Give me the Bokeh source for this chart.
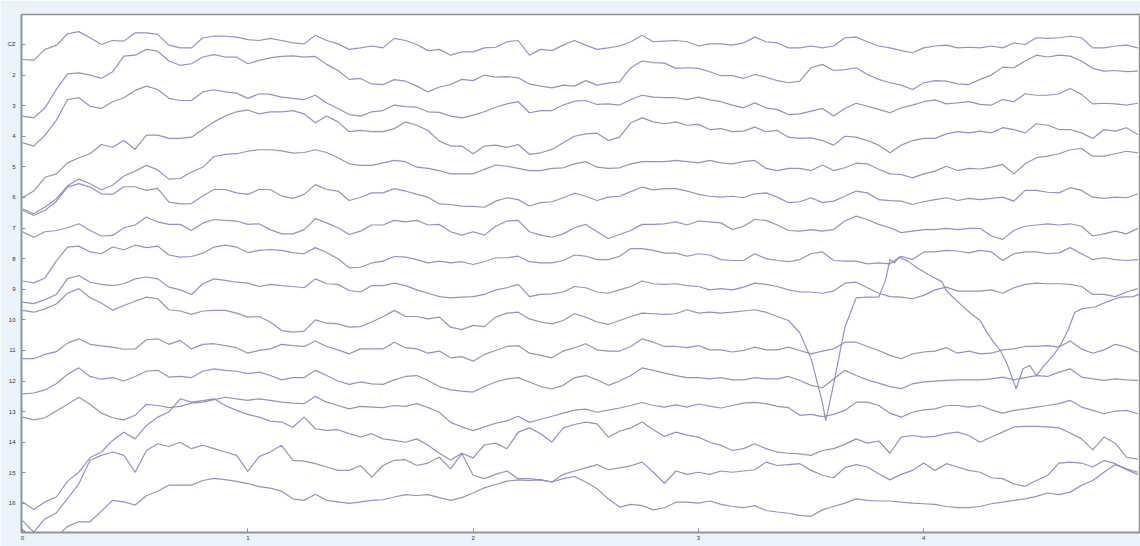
from bokeh.plotting import figure
from bokeh.models import Range1d, FixedTicker
from bokeh.embed import file_html
from bokeh.resources import INLINE

# ---------------- data ----------------
STEP = 0.05
time = [round(i * STEP, 2) for i in range(100)]          # seconds, 0 .. 4.95
channel_labels = ["CZ", "2", "3", "4", "5", "6", "7", "8",
                  "9", "10", "11", "12", "13", "14", "15", "16"]
x_ticks = [0, 1, 2, 3, 4]

# amplitude of each channel (positive = upward), in units of channel spacing
ch1 = [-0.49, -0.51, -0.16, -0.03, 0.35, 0.42, 0.22, 0.0, 0.13, 0.11, 0.38, 0.38, 0.33, -0.02, -0.11, -0.11,
       0.22, 0.27, 0.27, 0.24, 0.16, 0.13, 0.2, 0.13, 0.05, 0.02, 0.3, 0.13, 0.02, -0.16, -0.11, -0.05,
       -0.11, 0.2, 0.13, 0.0, -0.2, -0.16, -0.35, -0.24, -0.24, -0.11, -0.09, 0.09, 0.13, -0.35, -0.16, -0.2, -0.02,
       0.13, -0.02, -0.16, -0.11, -0.05, 0.09, 0.3, 0.09, 0.11, 0.13, 0.09, -0.05, 0.02, 0.02, -0.02, 0.05, 0.24,
       0.09, 0.05, -0.11, -0.11, -0.05, -0.11, -0.05, 0.22, 0.24, 0.09, -0.05, -0.11, -0.2, -0.27, -0.11, -0.05, -0.02,
       -0.11, -0.09, -0.11, -0.05, -0.11, 0.05, 0.0, 0.22, 0.2, 0.22, 0.27, 0.22, -0.11, -0.11, -0.05, -0.02, -0.11]
ch2 = [-1.34, -1.4, -1.07, -0.47, 0.04, 0.07, 0.0, -0.11, 0.11, 0.62, 0.65, 0.84, 0.78, 0.46, 0.32, 0.37,
       0.59, 0.67, 0.59, 0.59, 0.37, 0.48, 0.56, 0.61, 0.63, 0.59, 0.61, 0.35, 0.15, -0.14, -0.11, -0.29,
       -0.31, -0.15, -0.2, -0.36, -0.55, -0.39, -0.31, -0.14, -0.18, 0.0, -0.07, -0.05, -0.09, -0.29, -0.36, -0.42, -0.33,
       -0.36, -0.18, -0.33, -0.26, -0.22, 0.24, 0.46, 0.41, 0.39, 0.22, 0.24, 0.22, 0.11, -0.02, -0.02, -0.11, 0.02,
       -0.07, -0.18, -0.25, -0.2, 0.24, 0.35, 0.15, 0.18, 0.24, 0.02, -0.14, -0.25, -0.33, -0.47, -0.25, -0.18, -0.2,
       -0.29, -0.31, -0.14, 0.0, 0.26, 0.24, 0.46, 0.65, 0.59, 0.65, 0.62, 0.46, 0.22, 0.13, 0.15, 0.11, 0.13]
ch3 = [-1.21, -1.32, -0.96, -0.48, 0.2, 0.26, -0.02, -0.09, 0.13, 0.26, 0.5, 0.64, 0.53, 0.24, 0.17, 0.17,
       0.45, 0.52, 0.45, 0.41, 0.24, 0.39, 0.37, 0.28, 0.24, 0.2, 0.34, 0.09, -0.09, -0.29, -0.34, -0.2,
       -0.16, 0.02, -0.03, -0.05, -0.2, -0.22, -0.34, -0.4, -0.31, -0.2, -0.05, 0.06, 0.13, -0.23, -0.16, -0.16, 0.02,
       0.15, 0.17, 0.04, 0.06, 0.02, 0.2, 0.34, 0.28, 0.26, 0.26, 0.2, 0.28, 0.19, 0.13, 0.02, -0.07, 0.09,
       -0.07, -0.13, -0.29, -0.27, -0.18, -0.09, -0.34, -0.09, 0.08, -0.02, -0.12, -0.23, -0.07, 0.02, 0.13, 0.19, 0.06,
       0.09, 0.13, 0.04, 0.02, 0.2, 0.13, 0.39, 0.34, 0.34, 0.39, 0.56, 0.37, 0.06, 0.08, 0.06, 0.02, 0.08]
ch4 = [-2.0, -1.79, -1.34, -1.23, -0.87, -0.7, -0.57, -0.27, -0.36, -0.14, -0.43, 0.04, 0.04, -0.07, -0.07, -0.03,
       0.22, 0.47, 0.66, 0.8, 0.86, 0.73, 0.8, 0.8, 0.84, 0.73, 0.44, 0.66, 0.47, 0.15, 0.19, 0.15,
       0.15, 0.25, 0.47, 0.36, 0.19, -0.16, -0.32, -0.32, -0.57, -0.32, -0.29, -0.36, -0.27, -0.59, -0.54, -0.43, -0.21,
       0.0, 0.08, 0.1, -0.14, -0.03, 0.44, 0.6, 0.47, 0.41, 0.47, 0.36, 0.39, 0.22, 0.25, 0.15, 0.17, 0.3,
       0.15, 0.19, -0.03, -0.07, -0.05, -0.14, -0.29, 0.0, -0.03, -0.14, -0.29, -0.54, -0.29, -0.14, -0.07, -0.07, 0.08,
       0.15, 0.11, 0.17, 0.11, 0.28, 0.22, 0.11, 0.41, 0.36, 0.22, 0.22, 0.11, -0.07, 0.22, 0.17, 0.28, 0.06]
ch5 = [-1.37, -1.53, -1.31, -1.05, -0.62, -0.4, -0.55, -0.75, -0.6, -0.3, -0.14, 0.05, -0.1, -0.4, -0.38, -0.17,
       -0.01, 0.34, 0.41, 0.43, 0.51, 0.56, 0.56, 0.52, 0.45, 0.47, 0.56, 0.47, 0.3, 0.1, 0.05, 0.05,
       0.13, 0.21, 0.17, -0.01, -0.05, -0.12, -0.23, -0.23, -0.23, -0.08, 0.06, 0.02, -0.05, -0.12, -0.12, -0.05, -0.03,
       0.1, 0.17, -0.01, -0.05, -0.03, 0.1, 0.17, 0.17, 0.17, 0.21, 0.17, 0.13, 0.21, 0.13, 0.1, 0.17, 0.21,
       -0.05, -0.12, -0.05, -0.05, -0.12, 0.06, -0.12, -0.03, 0.12, 0.1, -0.08, -0.23, -0.25, -0.36, -0.23, -0.14, 0.02,
       -0.12, -0.05, -0.07, -0.01, 0.08, -0.23, 0.1, 0.3, 0.35, 0.43, 0.56, 0.6, 0.35, 0.35, 0.43, 0.51, 0.46]
ch6 = [-0.42, -0.59, -0.42, -0.13, 0.34, 0.45, 0.34, 0.12, 0.1, 0.35, 0.35, 0.23, 0.3, -0.15, -0.21, -0.2,
       0.05, 0.26, 0.26, 0.15, 0.1, 0.26, 0.26, 0.05, -0.03, 0.1, 0.42, 0.26, 0.21, -0.1, 0.0, 0.15,
       0.15, 0.29, 0.21, 0.1, 0.01, -0.21, -0.23, -0.28, -0.29, -0.32, -0.12, -0.01, -0.07, -0.28, -0.17, -0.14, -0.01,
       0.14, 0.04, -0.1, 0.01, 0.04, 0.19, 0.34, 0.25, 0.29, 0.29, 0.21, 0.1, 0.04, 0.01, 0.04, -0.01, 0.12,
       0.15, 0.01, -0.17, -0.14, -0.01, -0.17, -0.12, 0.04, 0.21, 0.15, -0.07, -0.1, -0.12, -0.23, -0.14, -0.07, -0.01,
       -0.1, -0.03, -0.07, -0.03, 0.01, -0.12, 0.23, 0.23, 0.17, 0.15, 0.32, 0.23, 0.01, -0.03, 0.01, -0.01, 0.12]
ch7 = [-0.12, -0.3, -0.12, -0.08, 0.01, 0.14, -0.08, -0.26, -0.24, 0.01, 0.1, 0.36, 0.2, 0.12, 0.12, -0.08,
       0.16, 0.28, 0.25, 0.23, 0.12, 0.14, -0.05, -0.19, -0.19, -0.05, 0.31, 0.17, 0.01, -0.21, -0.1, 0.1,
       0.1, 0.25, 0.2, 0.25, 0.1, 0.12, -0.12, -0.23, -0.12, -0.23, 0.06, 0.23, 0.25, -0.12, -0.23, -0.3, -0.19,
       0.01, 0.12, -0.12, -0.34, -0.21, -0.08, 0.12, 0.12, 0.14, 0.2, 0.1, 0.23, 0.2, 0.17, -0.05, 0.06, 0.28,
       0.25, 0.1, -0.08, -0.1, -0.05, -0.1, -0.05, 0.23, 0.39, 0.28, 0.12, 0.01, -0.15, -0.1, -0.05, -0.05, -0.01,
       -0.05, -0.01, -0.01, -0.26, -0.37, -0.08, 0.06, 0.1, 0.14, 0.1, 0.14, 0.06, -0.26, -0.19, -0.1, -0.19, -0.01]
ch8 = [-0.73, -0.79, -0.63, -0.08, 0.38, 0.41, 0.22, 0.16, 0.38, 0.29, 0.44, 0.36, 0.41, 0.12, 0.05, 0.07,
       0.18, 0.38, 0.44, 0.38, 0.2, 0.27, 0.3, 0.27, 0.2, 0.16, 0.36, 0.2, 0.0, -0.3, -0.28, -0.14,
       -0.08, 0.07, 0.05, -0.03, -0.14, -0.08, -0.14, -0.1, -0.19, -0.1, 0.03, 0.03, 0.08, -0.1, -0.14, -0.14, -0.06,
       0.12, 0.08, -0.03, -0.03, 0.08, 0.33, 0.33, 0.27, 0.18, 0.18, 0.08, 0.16, 0.12, -0.03, -0.06, -0.06, 0.16,
       0.0, -0.06, -0.1, -0.03, 0.16, 0.22, -0.06, -0.08, -0.08, -0.17, -0.14, -0.17, 0.08, -0.03, 0.22, 0.22, 0.27,
       0.25, 0.19, 0.27, 0.22, -0.06, 0.16, 0.22, 0.22, 0.16, 0.19, 0.36, 0.16, -0.03, 0.03, -0.03, -0.06, -0.03]
ch9 = [-0.42, -0.47, -0.34, -0.17, 0.35, 0.45, 0.23, 0.16, 0.12, 0.18, 0.34, 0.4, 0.34, 0.07, -0.02, -0.17,
       0.18, 0.34, 0.29, 0.23, 0.2, 0.09, 0.16, 0.12, 0.09, 0.05, 0.34, 0.18, 0.16, -0.04, -0.09, 0.12,
       0.12, 0.2, 0.12, -0.02, -0.13, -0.24, -0.28, -0.26, -0.24, -0.17, -0.02, 0.05, 0.16, -0.24, -0.17, -0.15, -0.09,
       0.09, 0.05, -0.09, -0.13, -0.02, 0.09, 0.27, 0.18, 0.16, 0.18, 0.12, 0.09, -0.02, 0.02, -0.02, 0.07, 0.2,
       0.16, 0.09, -0.02, -0.09, -0.09, -0.13, -0.06, 0.2, 0.23, 0.05, -0.13, -0.24, -0.26, -0.31, -0.2, -0.02, 0.07,
       -0.06, -0.06, -0.06, -0.02, -0.13, 0.05, 0.16, 0.2, 0.18, 0.18, 0.16, 0.09, -0.17, -0.17, -0.24, -0.09, 0.02]
# channel 10: regular part up to 3.25 s, then the large artefact with its own time points
ch10_head = [0.31, 0.25, 0.36, 0.52, 0.87, 1.02, 0.72, 0.55, 0.31, 0.47, 0.61, 0.74, 0.69, 0.33, 0.29, 0.18,
             0.29, 0.31, 0.31, 0.22, 0.09, 0.11, -0.07, -0.35, -0.4, -0.37, 0.0, -0.11, -0.13, -0.24, -0.22, -0.07,
             0.1, 0.31, 0.11, 0.11, 0.03, 0.09, -0.24, -0.32, -0.18, -0.22, 0.09, 0.22, 0.25, 0.03, -0.07, -0.13, -0.02,
             0.2, 0.09, -0.07, -0.15, -0.02, 0.11, 0.22, 0.2, 0.18, 0.2, 0.33, 0.22, 0.25, 0.22, 0.25, 0.29, 0.33]
ch10_tail_time = [3.3, 3.35, 3.4, 3.45, 3.5, 3.55, 3.565, 3.6, 3.65, 3.7, 3.75, 3.8, 3.83, 3.85, 3.87, 3.89,
                  3.93, 3.97, 4.02, 4.08, 4.1, 4.13, 4.16, 4.21, 4.25, 4.28, 4.31, 4.34, 4.37, 4.41, 4.42, 4.44,
                  4.47, 4.5, 4.53, 4.58, 4.61, 4.64, 4.67, 4.7, 4.76, 4.81, 4.87, 4.93, 4.96]
ch10_tail = [0.25, 0.11, -0.02, -0.43, -1.27, -2.7, -3.29, -2.1, -0.24, 0.72, 0.74, 0.74, 1.29, 1.97, 1.86, 2.05,
             1.92, 1.7, 1.48, 1.25, 0.96, 0.74, 0.53, 0.2, -0.02, -0.4, -0.73, -1.0, -1.44, -2.25, -2.03, -1.6,
             -1.49, -1.82, -1.54, -1.11, -0.78, -0.35, 0.25, 0.36, 0.42, 0.58, 0.74, 0.76, 0.85]
ch11 = [-0.27, -0.27, -0.13, -0.04, 0.24, 0.38, 0.2, 0.15, 0.11, 0.04, 0.05, 0.35, 0.38, 0.2, 0.33, 0.05,
        0.2, 0.22, 0.16, 0.09, -0.09, 0.0, 0.05, 0.2, 0.16, 0.13, 0.31, 0.13, 0.02, -0.11, 0.05, 0.05,
        0.05, 0.27, 0.09, 0.05, -0.09, -0.02, -0.24, -0.2, -0.35, -0.13, 0.0, 0.13, 0.16, -0.09, -0.16, -0.24, -0.02,
        0.09, 0.22, 0.02, -0.02, -0.02, 0.13, 0.38, 0.27, 0.13, 0.13, 0.09, 0.16, 0.02, 0.02, -0.05, 0.0, 0.11,
        0.02, 0.02, 0.11, 0.0, -0.11, -0.02, 0.05, 0.27, 0.27, 0.13, 0.0, -0.16, -0.27, -0.11, -0.05, -0.02, 0.09,
        -0.09, -0.02, -0.11, -0.09, 0.02, 0.05, 0.13, 0.13, 0.16, 0.11, 0.31, 0.05, -0.09, 0.02, 0.2, 0.11, -0.05]
ch12 = [-0.42, -0.39, -0.29, -0.09, 0.22, 0.43, 0.15, 0.06, 0.11, 0.0, 0.15, 0.32, 0.35, 0.13, 0.15, 0.11,
        0.32, 0.4, 0.35, 0.32, 0.24, 0.29, 0.18, 0.04, 0.11, 0.11, 0.35, 0.18, 0.0, -0.11, -0.03, -0.09,
        -0.11, 0.04, 0.15, 0.18, 0.02, -0.18, -0.29, -0.33, -0.36, -0.18, -0.03, 0.07, 0.11, -0.03, -0.18, -0.26, -0.14,
        0.11, 0.18, 0.04, -0.14, 0.0, 0.18, 0.43, 0.35, 0.26, 0.18, 0.11, 0.11, 0.07, 0.11, 0.04, 0.04, 0.11,
        0.07, 0.07, 0.15, 0.02, -0.14, -0.22, 0.07, 0.35, 0.18, 0.04, -0.07, -0.18, -0.25, -0.09, -0.03, 0.0, 0.02,
        0.04, 0.04, 0.04, 0.07, 0.13, 0.04, 0.11, 0.18, 0.15, 0.29, 0.4, 0.13, 0.07, 0.02, 0.07, 0.04, 0.02]
ch13 = [-0.18, -0.27, -0.2, 0.02, 0.24, 0.47, 0.24, -0.05, -0.2, -0.27, -0.12, 0.24, 0.2, 0.13, 0.17, 0.28,
        0.31, 0.39, 0.47, 0.42, 0.37, 0.42, 0.37, 0.31, 0.28, 0.26, 0.5, 0.31, 0.2, 0.09, 0.17, 0.15,
        0.13, 0.2, 0.17, 0.26, 0.13, -0.02, -0.35, -0.5, -0.62, -0.5, -0.38, -0.3, -0.15, -0.35, -0.25, -0.15, -0.05,
        0.05, 0.08, -0.02, 0.05, 0.12, 0.2, 0.3, 0.2, 0.15, 0.22, 0.15, 0.25, 0.18, 0.12, 0.2, 0.28, 0.3,
        0.26, 0.17, 0.13, -0.12, -0.09, -0.16, -0.09, 0.04, 0.31, 0.31, 0.2, -0.05, -0.18, -0.02, 0.06, 0.09, 0.2,
        0.2, 0.15, 0.2, 0.06, -0.05, 0.04, 0.09, 0.15, 0.2, 0.26, 0.37, 0.15, 0.04, -0.07, 0.02, 0.04, -0.07]
ch14 = [-1.95, -2.2, -1.95, -1.79, -1.27, -0.98, -0.5, -0.32, 0.06, 0.33, 0.11, 0.55, 0.82, 0.99, 1.42, 1.31,
        1.36, 1.42, 1.2, 1.04, 0.91, 0.82, 0.69, 0.66, 0.49, 0.82, 0.44, 0.39, 0.41, 0.28, 0.17, 0.28,
        0.11, 0.06, 0.0, 0.11, -0.1, -0.36, -0.58, -0.36, -0.51, -0.09, -0.03, -0.21, 0.33, 0.47, 0.28, 0.0, 0.47,
        0.58, 0.66, 0.6, 0.17, 0.36, 0.47, 0.66, 0.41, 0.19, 0.33, 0.23, 0.17, 0.0, -0.1, -0.27, -0.21, -0.05,
        -0.21, -0.32, -0.36, -0.38, -0.43, -0.27, -0.21, -0.07, 0.11, -0.03, 0.04, -0.36, 0.17, 0.22, 0.17, 0.19, 0.28,
        0.33, 0.22, 0.0, 0.17, 0.33, 0.5, 0.52, 0.52, 0.5, 0.47, 0.3, 0.11, -0.25, 0.17, -0.03, -0.49, -0.55]
ch15 = [-1.56, -1.94, -1.5, -1.31, -0.84, -0.36, 0.41, 0.57, 0.68, 0.57, 0.02, 0.73, 0.95, 0.86, 1.0, 0.79,
        0.9, 0.79, 0.68, 0.57, 0.05, 0.53, 0.68, 0.9, 0.41, 0.38, 0.3, 0.19, 0.08, 0.08, 0.24, -0.14,
        0.24, 0.41, 0.43, 0.24, 0.32, 0.51, 0.13, 0.63, -0.08, -0.19, -0.05, 0.06, -0.19, -0.19, -0.23, -0.3, -0.05,
        0.06, 0.16, 0.27, 0.1, 0.16, 0.23, 0.35, 0.02, -0.34, 0.06, -0.05, 0.02, -0.05, 0.06, 0.02, 0.06, 0.1,
        0.35, 0.24, 0.27, 0.3, 0.08, -0.08, -0.16, 0.17, 0.27, 0.19, -0.03, -0.23, -0.05, 0.08, 0.32, 0.08, 0.3,
        0.19, 0.08, 0.02, -0.16, -0.19, -0.36, -0.44, -0.25, -0.08, 0.32, 0.35, 0.32, 0.19, 0.4, 0.3, 0.1, -0.05]
ch16 = [-0.85, -1.2, -1.3, -1.1, -0.75, -0.6, -0.6, -0.25, 0.1, 0.05, -0.05, 0.25, 0.4, 0.6, 0.6, 0.6,
        0.75, 0.82, 0.78, 0.72, 0.65, 0.55, 0.5, 0.4, 0.15, 0.1, 0.3, 0.1, 0.05, 0.0, 0.05, 0.1,
        0.12, 0.21, 0.29, 0.26, 0.29, 0.19, 0.1, 0.19, 0.34, 0.51, 0.62, 0.73, 0.77, 0.75, 0.77, 0.7, 0.81,
        0.88, 0.7, 0.48, 0.15, -0.12, -0.03, -0.07, -0.21, -0.14, 0.04, 0.04, 0.01, 0.08, -0.03, -0.1, -0.14, -0.07,
        -0.23, -0.28, -0.32, -0.39, -0.42, -0.21, -0.1, 0.01, 0.15, 0.1, 0.08, 0.08, 0.04, 0.01, -0.01, -0.03, -0.1,
        -0.14, -0.14, -0.1, -0.01, 0.04, 0.1, 0.15, 0.23, 0.34, 0.29, 0.37, 0.59, 0.75, 1.02, 1.27, 1.13, 1.02]

# ---------------- figure ----------------
LINE = "#8585c9"
AXIS = "#909090"
p = figure(width=1140, height=546, output_backend="svg", toolbar_location=None,
           x_range=Range1d(-0.0044, 4.962), y_range=Range1d(16.95, 0.02),
           min_border_left=21, min_border_right=0, min_border_top=14, min_border_bottom=14,
           background_fill_color="white", border_fill_color="#eaf2fb",
           outline_line_color=AXIS, outline_line_width=1.5)
p.grid.visible = False

series = [ch1, ch2, ch3, ch4, ch5, ch6, ch7, ch8, ch9, None, ch11, ch12, ch13, ch14, ch15, ch16]
for idx, amp in enumerate(series, start=1):
    if amp is None:
        xs = time[:len(ch10_head)] + ch10_tail_time
        vals = ch10_head + ch10_tail
    else:
        xs = time
        vals = amp
    ys = [idx - v for v in vals]
    p.line(xs[:len(ys)], ys[:len(xs)], line_color=LINE, line_width=1.2, line_alpha=0.9,
           line_join="round")

for axes in (p.xaxis, p.yaxis):
    axes.major_tick_in = 4
    axes.major_tick_out = 0
    axes.minor_tick_in = 0
    axes.minor_tick_out = 0
    axes.axis_line_color = AXIS
    axes.axis_line_width = 1.5
    axes.major_tick_line_color = AXIS
    axes.major_label_text_font = "Liberation Sans"
    axes.major_label_text_font_size = "6px"
    axes.major_label_text_color = "#333333"

p.xaxis.ticker = FixedTicker(ticks=x_ticks)
p.xaxis.major_label_standoff = 3
p.yaxis.ticker = FixedTicker(ticks=list(range(1, 17)))
p.yaxis.major_label_overrides = {i + 1: lab for i, lab in enumerate(channel_labels)}
p.yaxis.major_label_standoff = 6

open("out.html", "w").write(file_html(p, INLINE))
